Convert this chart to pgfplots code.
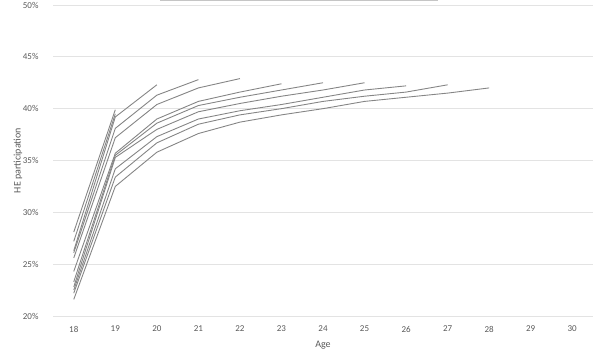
\documentclass[border=0pt]{standalone}
\usepackage{pgfplots}
\pgfplotsset{compat=1.18}
\usepackage{fontspec}
\setmainfont{Carlito}
\definecolor{lineg}{HTML}{858585}
\definecolor{textg}{HTML}{595959}
\definecolor{gridg}{HTML}{E3E3E3}
\pgfplotsset{lin/.style={draw=lineg, solid, line width=0.9pt, mark=none}}
\begin{document}
\begin{tikzpicture}
\useasboundingbox (0pt,0pt) rectangle (600pt,350pt);
\draw[gridg!70!gray, line width=0.8pt] (160pt,349.6pt) -- (438pt,349.6pt);
\begin{axis}[
  at={(53pt,34pt)}, anchor=south west, scale only axis,
  width=540pt, height=311pt,
  xmin=17.5, xmax=30.5, ymin=20, ymax=50,
  xtick={18,...,30}, ytick={20,25,...,50},
  yticklabel={\pgfmathprintnumber{\tick}\%},
  /pgf/number format/assume math mode=true,
  axis line style={draw=none},
  major tick length=0pt,
  ymajorgrids, grid style={gridg, line width=0.8pt},
  tick label style={font=\fontsize{9}{10}\selectfont, text=textg},
  xticklabel style={anchor=center, yshift=-13pt},
  yticklabel style={anchor=east, xshift=-11pt},
  xlabel={Age}, ylabel={HE participation},
  every axis x label/.style={at={(axis description cs:0.5,0)}, anchor=center, yshift=-29pt, font=\fontsize{10}{11}\selectfont, text=textg},
  every axis y label/.style={at={(axis description cs:0,0.5)}, xshift=-35pt, rotate=90, anchor=center, font=\fontsize{10}{11}\selectfont, text=textg},
  clip=false,
]
\addplot[lin] coordinates {(18,28.1) (19,39.9)};
\addplot[lin] coordinates {(18,27.2) (19,39.5)};
\addplot[lin] coordinates {(18,26.3) (19,39.2) (20,42.3)};
\addplot[lin] coordinates {(18,26.1) (19,38.1) (20,41.3) (21,42.8)};
\addplot[lin] coordinates {(18,25.6) (19,37.2) (20,40.4) (21,42.0) (22,42.9)};
\addplot[lin] coordinates {(18,24.3) (19,35.7) (20,39.0) (21,40.7) (22,41.6) (23,42.4)};
\addplot[lin] coordinates {(18,23.3) (19,35.5) (20,38.6) (21,40.3) (22,41.1) (23,41.8) (24,42.5)};
\addplot[lin] coordinates {(18,22.8) (19,35.3) (20,38.0) (21,39.7) (22,40.5) (23,41.2) (24,41.8) (25,42.5)};
\addplot[lin] coordinates {(18,22.5) (19,34.2) (20,37.3) (21,39.0) (22,39.8) (23,40.4) (24,41.1) (25,41.8) (26,42.2)};
\addplot[lin] coordinates {(18,22.2) (19,33.4) (20,36.7) (21,38.5) (22,39.4) (23,40.0) (24,40.7) (25,41.2) (26,41.6) (27,42.3)};
\addplot[lin] coordinates {(18,21.6) (19,32.5) (20,35.8) (21,37.6) (22,38.7) (23,39.4) (24,40.0) (25,40.7) (26,41.1) (27,41.5) (28,42.0)};
\end{axis}
\end{tikzpicture}
\end{document}
